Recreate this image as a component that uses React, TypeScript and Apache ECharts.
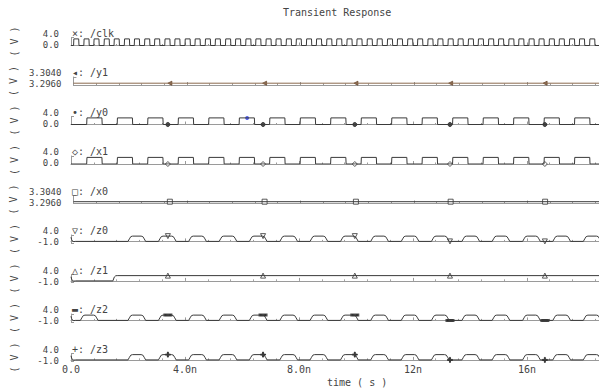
import React, { useEffect, useRef } from 'react';
import * as echarts from 'echarts';

// ---- data ----
const rowNames = ['×: /clk', '◂: /y1', '•: /y0', '◇: /x1', '□: /x0', '▽: /z0', '△: /z1', '▬: /z2', '+: /z3'];
const yMins = [0, 3.296, 0, 0, 3.296, -1, -1, -1, -1];
const yMaxs = [4, 3.304, 4, 4, 3.304, 4, 4, 4, 4];
const yDecimals = [1, 4, 1, 1, 4, 1, 1, 1, 1];
const xTickValues = [0, 4, 8, 12, 16];
const xTickLabels = ['0.0', '4.0n', '8.0n', '12n', '16n'];
const tMax = 18.53;

// rising-edge times (ns)
const clkRise = [0.09, 0.45, 0.80, 1.16, 1.51, 1.87, 2.22, 2.58, 2.93, 3.29, 3.64, 4.00, 4.35, 4.71, 5.06, 5.42, 5.77, 6.13, 6.48, 6.84, 7.19, 7.55, 7.90, 8.26, 8.61, 8.97, 9.32, 9.68, 10.03, 10.39, 10.74, 11.10, 11.45, 11.81, 12.16, 12.52, 12.87, 13.23, 13.58, 13.94, 14.29, 14.65, 15.00, 15.36, 15.71, 16.07, 16.42, 16.78, 17.13, 17.49, 17.84, 18.20];
const y0Rise = [0.55, 1.62, 2.69, 3.76, 4.83, 5.90, 6.97, 8.04, 9.11, 10.18, 11.25, 12.32, 13.39, 14.46, 15.53, 16.60, 17.67];
const x1Rise = [0.55, 1.62, 2.69, 3.76, 4.83, 5.90, 6.97, 8.04, 9.11, 10.18, 11.25, 12.32, 13.39, 14.46, 15.53, 16.60, 17.67];
const z0Rise = [2.00, 3.07, 4.13, 5.20, 6.26, 7.33, 8.39, 9.46, 10.52, 11.59, 12.65, 13.72, 14.78, 15.85, 16.91, 17.98];
const z1Rise = [1.47];
const z2Rise = [0.33, 2.00, 3.07, 4.13, 5.20, 6.26, 7.33, 8.39, 9.46, 10.52, 11.59, 12.65, 13.72, 14.78, 15.85, 16.91, 17.98];
const z3Rise = [2.00, 3.07, 4.13, 5.20, 6.26, 7.33, 8.39, 9.46, 10.52, 11.59, 12.65, 13.72, 14.78, 15.85, 16.91, 17.98];
const y1Level = 3.2978;
const x0Level = 3.2978;

// pulse shapes (time offset, volts)
const clkShape = [[0, 0], [0.01, 3.3], [0.18, 3.3], [0.19, 0]];
const yShape = [[0, 0], [0.01, 3.3], [0.535, 3.3], [0.545, 0]];
const zShape = [[0, 0], [0.05, 1.6], [0.1, 3.0], [0.16, 3.3], [0.46, 3.3], [0.52, 3.0], [0.57, 1.6], [0.62, 0]];
const zRiseShape = [[0, 0], [0.05, 2.4], [0.1, 3.2], [0.15, 3.3]];
const zStart = [[0, 2.6], [0.02, 1.2], [0.05, 0.2], [0.1, -0.15], [0.16, 0]];

// markers
const markerTimes = [3.40, 6.74, 9.96, 13.30, 16.63];
const y1Markers = [3.2978, 3.2978, 3.2978, 3.2978, 3.2978];
const y0Markers = [0, 0, 0, 0, 0];
const x1Markers = [0, 0, 0, 0, 0];
const x0Markers = [3.2978, 3.2978, 3.2978, 3.2978, 3.2978];
const z0Markers = [3.3, 3.3, 3.3, 0, 0];
const z1Markers = [3.3, 3.3, 3.3, 3.3, 3.3];
const z2Markers = [3.3, 3.3, 3.3, 0, 0];
const z3Markers = [3.3, 3.3, 3.3, 0, 0];
const y0Cursor = [6.18, 3.3];

const FONT = 'DejaVu Sans Mono';
const TXT = '#444';
const AX = '#9a9a9a';
const WAVE = '#3a3a3a';

function train(start: number[][], rises: number[], shape: number[][], endVal: number) {
  const pts: number[][] = start.map((p) => [p[0], p[1]]);
  rises.forEach((s) => shape.forEach((p) => pts.push([s + p[0], p[1]])));
  pts.push([tMax, endVal]);
  return pts;
}

export default function App() {
  const ref = useRef<HTMLDivElement>(null);
  useEffect(() => {
    if (!ref.current) return;
    const chart = echarts.init(ref.current, undefined, { renderer: 'svg' });
    const rowTop = (i: number) => 37.5 + 39.5 * i;
    const H = 8;

    const grids = rowNames.map((_, i) => ({ left: 71, right: 0, top: rowTop(i), height: H }));
    const xAxes = rowNames.map((_, i) => ({
      type: 'value', gridIndex: i, min: 0, max: tMax, interval: 4,
      axisLine: { show: true, lineStyle: { color: AX, width: 1 } },
      axisTick: { show: true, inside: true, length: 3, lineStyle: { color: AX } },
      minorTick: { show: true, splitNumber: 5, length: 1.5, lineStyle: { color: AX } },
      splitLine: { show: false },
      axisLabel: {
        show: i === rowNames.length - 1, margin: 3, fontSize: 10, fontFamily: FONT, color: TXT,
        showMaxLabel: false,
        formatter: (v: number) => { const k = xTickValues.indexOf(Math.round(v * 1000) / 1000); return k >= 0 ? xTickLabels[k] : ''; },
      },
    }));
    const labelBase = {
      margin: 12, fontSize: 9, fontFamily: FONT, color: TXT, verticalAlign: 'bottom',
      showMinLabel: true, showMaxLabel: true, hideOverlap: false,
    };
    // main axes: line, end ticks, top label, "( V )" name
    const yMain = rowNames.map((_, i) => ({
      type: 'value', gridIndex: i, position: 'left', min: yMins[i], max: yMaxs[i],
      axisLine: { show: true, lineStyle: { color: AX, width: 1 } },
      axisTick: { show: true, inside: true, length: 3, lineStyle: { color: AX }, customValues: [yMins[i], yMaxs[i]] },
      splitLine: { show: false },
      axisLabel: { ...labelBase, lineHeight: 8, customValues: [yMaxs[i]], formatter: (v: number) => v.toFixed(yDecimals[i]) },
      name: '( V )', nameLocation: 'middle', nameRotate: 90, nameGap: 52,
      nameTextStyle: { fontSize: 10, fontFamily: FONT, color: TXT },
    }));
    // companion axes: bottom label only
    const yLow = rowNames.map((_, i) => ({
      type: 'value', gridIndex: i, position: 'left', offset: 0, min: yMins[i], max: yMaxs[i],
      axisLine: { show: false }, axisTick: { show: false }, splitLine: { show: false },
      axisLabel: { ...labelBase, lineHeight: 2, customValues: [yMins[i]], formatter: (v: number) => v.toFixed(yDecimals[i]) },
    }));

    const waves = [
      train([[0, 0]], clkRise, clkShape, 0),
      [[0, y1Level], [tMax, y1Level]],
      train([[0, 0]], y0Rise, yShape, 0),
      train([[0, 0]], x1Rise, yShape, 0),
      [[0, x0Level], [tMax, x0Level]],
      train(zStart, z0Rise, zShape, 0),
      train(zStart, z1Rise, zRiseShape, 3.3),
      train(zStart, z2Rise, zShape, 0),
      train(zStart, z3Rise, zShape, 0),
    ];
    const lineSeries = waves.map((d, i) => ({
      type: 'line', xAxisIndex: i, yAxisIndex: i, data: d, showSymbol: false, symbol: 'none',
      lineStyle: { width: 1, color: i === 1 ? '#8c6a4f' : WAVE }, silent: true,
    }));

    const mk = (i: number, vals: number[], symbol: string, size: any, fill: string, border: string, rotate = 0) => ({
      type: 'scatter', xAxisIndex: i, yAxisIndex: i, symbol, symbolSize: size, symbolRotate: rotate,
      data: markerTimes.map((t, k) => [t, vals[k]]),
      itemStyle: { color: fill, borderColor: border, borderWidth: 1 }, silent: true,
    });
    const markerSeries = [
      mk(1, y1Markers, 'triangle', 4, '#6b4a30', '#6b4a30', 90),
      mk(2, y0Markers, 'circle', 4, '#222', '#222'),
      mk(3, x1Markers, 'diamond', 5, '#fff', '#333'),
      mk(4, x0Markers, 'rect', 5, '#fff', '#333'),
      mk(5, z0Markers, 'triangle', 5, '#fff', '#333', 180),
      mk(6, z1Markers, 'triangle', 5, '#fff', '#333'),
      mk(7, z2Markers, 'rect', [6, 2], '#222', '#222'),
      mk(8, z3Markers, 'path://M4,0H6V4H10V6H6V10H4V6H0V4H4Z', 5, '#222', '#222'),
      {
        type: 'scatter', xAxisIndex: 2, yAxisIndex: 2, symbol: 'circle', symbolSize: 4,
        data: [y0Cursor], itemStyle: { color: '#2a3cf0' }, silent: true,
      },
    ];

    const titleStyle = { fontSize: 10, fontFamily: FONT, color: TXT, fontWeight: 'normal' };
    const titles: any[] = [
      { text: 'Transient Response', left: 283, top: 7, padding: 0, textStyle: titleStyle },
      ...rowNames.map((n, i) => ({ text: n, left: 72, top: rowTop(i) - 9.5, padding: 0, textStyle: titleStyle })),
      { text: 'time ( s )', left: 327, top: 377, padding: 0, textStyle: titleStyle },
    ];

    chart.setOption({
      animation: false,
      backgroundColor: '#ffffff',
      title: titles,
      grid: grids,
      xAxis: xAxes,
      yAxis: [...yMain, ...yLow],
      series: [...lineSeries, ...markerSeries],
    } as any);
    return () => chart.dispose();
  }, []);
  return <div ref={ref} style={{ position: 'fixed', left: 0, top: 0, width: 599, height: 390 }} />;
}
